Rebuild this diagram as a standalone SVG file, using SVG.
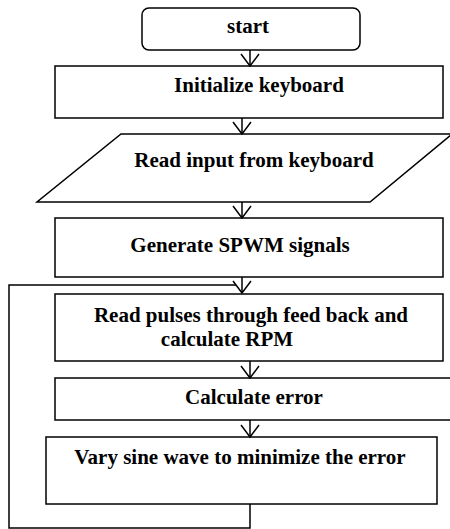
<svg xmlns="http://www.w3.org/2000/svg" width="450" height="529" viewBox="0 0 450 529">
<style>
.box{fill:#fff;stroke:#000;stroke-width:1.5}
.t{font-family:"Liberation Serif","Times New Roman",serif;font-weight:bold;font-size:21px;fill:#000;text-anchor:middle}
.ln{fill:none;stroke:#000;stroke-width:1.5}
</style>
<defs>
<marker id="ah" markerWidth="16" markerHeight="20" refX="13" refY="10" orient="auto" markerUnits="userSpaceOnUse" viewBox="0 0 16 20">
<path d="M1,1 L13,10 L1,19" fill="none" stroke="#000" stroke-width="1.5"/>
</marker>
</defs>
<g id="start"><rect class="box" x="142" y="8" width="218" height="42" rx="7"/><text class="t" x="248" y="33">start</text></g>
<g id="init"><rect class="box" x="55" y="66" width="388" height="52"/><text class="t" x="259" y="92">Initialize keyboard</text></g>
<g id="read"><polygon class="box" points="121,134 452,134 370,202 37,202"/><text class="t" x="254" y="167">Read input from keyboard</text></g>
<g id="gen"><rect class="box" x="55" y="218" width="388" height="59"/><text class="t" x="240" y="252">Generate SPWM signals</text></g>
<g id="pulses"><rect class="box" x="55" y="294" width="388" height="67"/><text class="t" x="251" y="322">Read pulses through feed back and</text><text class="t" x="227" y="346">calculate RPM</text></g>
<g id="calc"><rect class="box" x="55" y="378" width="400" height="42"/><text class="t" x="254" y="404">Calculate error</text></g>
<g id="vary"><rect class="box" x="46" y="437" width="391" height="67"/><text class="t" x="240" y="464">Vary sine wave to minimize the error</text></g>
<g id="connectors">
<line class="ln" x1="250" y1="50" x2="250" y2="66" marker-end="url(#ah)"/>
<line class="ln" x1="242" y1="118" x2="242" y2="134" marker-end="url(#ah)"/>
<line class="ln" x1="242" y1="202" x2="242" y2="218" marker-end="url(#ah)"/>
<line class="ln" x1="242" y1="277" x2="242" y2="293" marker-end="url(#ah)"/>
<line class="ln" x1="250" y1="361" x2="250" y2="378" marker-end="url(#ah)"/>
<line class="ln" x1="250" y1="420" x2="250" y2="437" marker-end="url(#ah)"/>
<polyline class="ln" points="250,504 250,528 9,528 9,285 236,285"/>
</g>
</svg>
